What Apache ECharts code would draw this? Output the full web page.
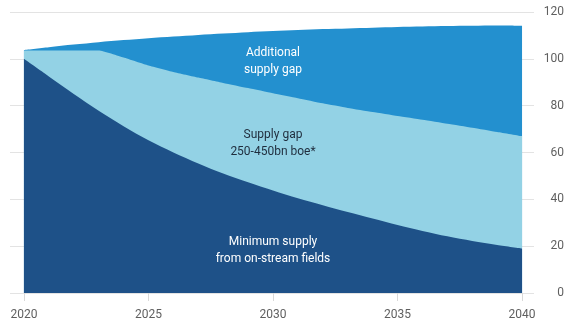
<!DOCTYPE html>
<html>
<head>
<meta charset="utf-8">
<style>
  html, body { margin: 0; padding: 0; background: #ffffff; }
  #chart { width: 567px; height: 328px; }
</style>
<script src="https://cdn.jsdelivr.net/npm/echarts@6/dist/echarts.min.js"></script>
</head>
<body>
<div id="chart"></div>
<script>
// Years on the horizontal axis
const years = [2020, 2021, 2022, 2023, 2024, 2025, 2026, 2027, 2028, 2029, 2030,
               2031, 2032, 2033, 2034, 2035, 2036, 2037, 2038, 2039, 2040];

// Minimum supply from on-stream fields (m boe/d)
const minimumSupply = [100, 92.5, 85, 77.8, 71.2, 65.2, 60, 55.3, 51, 47.3, 43.8,
                       40.5, 37.5, 34.6, 31.8, 29.0, 26.5, 24.2, 22.2, 20.5, 19];

// Upper edge of the supply gap band
const supplyGapUpper = [103.6, 103.6, 103.6, 103.6, 100.6, 97.2, 94.4, 92, 89.7, 87.5, 85.3,
                        83.2, 81, 79, 77.3, 75.6, 74, 72.3, 70.6, 68.8, 67];

// Total demand: upper edge of the additional supply gap
const totalDemand = [103.8, 105, 106.1, 107.1, 108, 108.8, 109.5, 110.2, 110.8, 111.4, 111.9,
                     112.3, 112.7, 113, 113.3, 113.6, 113.8, 114, 114.1, 114.2, 114.1];

const xTicks = [2020, 2025, 2030, 2035, 2040];
const yTicks = [0, 20, 40, 60, 80, 100, 120];

// Area annotations: text and anchor in data coordinates
const annotations = [
  { text: 'Additional\nsupply gap', at: [2030, 99.0], color: '#ffffff' },
  { text: 'Supply gap\n250-450bn boe*', at: [2030, 63.8], color: '#1f2d3d' },
  { text: 'Minimum supply\nfrom on-stream fields', at: [2030, 18.0], color: '#ffffff' }
];

const pairs = (vals) => years.map((y, i) => [y, vals[i]]);

const chart = echarts.init(document.getElementById('chart'), null, { renderer: 'canvas' });

const areaSeries = (name, vals, color, z, smooth) => ({
  name: name,
  type: 'line',
  data: pairs(vals),
  symbol: 'none',
  smooth: smooth,
  lineStyle: { width: 0 },
  areaStyle: { color: color, opacity: 1, origin: 'start' },
  z: z,
  silent: true,
  animation: false
});

chart.setOption({
  animation: false,
  grid: { left: 10, right: 32, top: 12, bottom: 35, containLabel: false },
  xAxis: {
    type: 'value',
    min: 2019.44,
    max: 2040.48,
    axisLine: { show: false },
    splitLine: { show: false },
    axisTick: {
      show: true,
      customValues: xTicks,
      length: 8,
      lineStyle: { color: '#d9d9d9', width: 1 }
    },
    axisLabel: {
      customValues: xTicks,
      color: '#5f5f5f',
      fontFamily: 'Roboto',
      fontSize: 12,
      margin: 16,
      formatter: (v) => String(v)
    }
  },
  yAxis: {
    type: 'value',
    position: 'right',
    min: 0,
    max: 120,
    interval: 20,
    axisLine: { show: false },
    axisTick: { show: false },
    splitLine: { show: true, lineStyle: { color: '#e3e3e3', width: 1 } },
    axisLabel: {
      color: '#5f5f5f',
      fontFamily: 'Roboto',
      fontSize: 12,
      align: 'right',
      margin: 30,
      customValues: yTicks
    }
  },
  series: [
    areaSeries('Additional supply gap', totalDemand, '#2390cf', 2, 0.3),
    areaSeries('Supply gap', supplyGapUpper, '#93d2e5', 3, 0.15),
    areaSeries('Minimum supply', minimumSupply, '#1e5188', 4, 0.3)
  ]
});

// Place the area annotations at their data positions
chart.setOption({
  graphic: annotations.map((a) => {
    const p = chart.convertToPixel({ gridIndex: 0 }, a.at);
    return {
      type: 'text',
      x: p[0],
      y: p[1],
      z: 100,
      silent: true,
      style: {
        text: a.text,
        fill: a.color,
        font: '12px Roboto',
        lineHeight: 17,
        align: 'center',
        verticalAlign: 'middle'
      }
    };
  })
});
</script>
</body>
</html>
